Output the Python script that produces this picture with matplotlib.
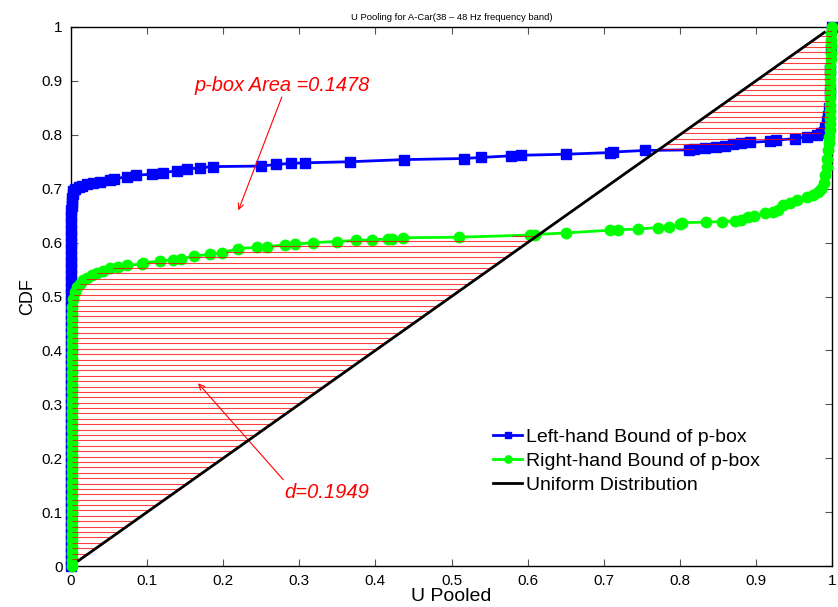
import numpy as np
import matplotlib
matplotlib.use('Agg')
import matplotlib.pyplot as plt

plt.rcParams['font.family'] = ['Liberation Sans', 'DejaVu Sans']

# Left-hand bound of the p-box (blue squares)
left_x = [0.000, 0.000, 0.000, 0.000, 0.000, 0.000, 0.000, 0.000, 0.000, 0.000,
          0.000, 0.000, 0.000, 0.000, 0.000, 0.000, 0.000, 0.000, 0.000, 0.000,
          0.000, 0.000, 0.000, 0.000, 0.000, 0.000, 0.000, 0.000, 0.000, 0.000,
          0.000, 0.000, 0.000, 0.000, 0.000, 0.000, 0.000, 0.000, 0.000, 0.000,
          0.000, 0.000, 0.000, 0.000, 0.000, 0.000, 0.000, 0.000, 0.000, 0.000,
          0.000, 0.000, 0.000, 0.000, 0.000, 0.000, 0.001, 0.001, 0.001, 0.002,
          0.003, 0.005, 0.010, 0.015, 0.021, 0.029, 0.038, 0.051, 0.056, 0.073,
          0.086, 0.106, 0.121, 0.139, 0.152, 0.170, 0.187, 0.250, 0.270, 0.289,
          0.307, 0.366, 0.438, 0.516, 0.539, 0.578, 0.591, 0.651, 0.708, 0.712,
          0.754, 0.812, 0.819, 0.833, 0.848, 0.859, 0.870, 0.881, 0.892, 0.919,
          0.927, 0.951, 0.967, 0.980, 0.986, 0.989, 0.991, 0.993, 0.994, 0.995,
          0.996, 0.997, 0.998, 0.999, 1.000]
left_y = [0.000, 0.012, 0.024, 0.036, 0.048, 0.060, 0.072, 0.084, 0.096, 0.108,
          0.120, 0.132, 0.144, 0.156, 0.168, 0.180, 0.192, 0.204, 0.216, 0.228,
          0.240, 0.252, 0.264, 0.276, 0.288, 0.300, 0.312, 0.324, 0.336, 0.348,
          0.360, 0.372, 0.384, 0.396, 0.408, 0.420, 0.432, 0.444, 0.456, 0.468,
          0.480, 0.492, 0.504, 0.516, 0.528, 0.540, 0.552, 0.564, 0.576, 0.588,
          0.600, 0.612, 0.624, 0.636, 0.648, 0.660, 0.668, 0.676, 0.683, 0.690,
          0.696, 0.700, 0.703, 0.705, 0.708, 0.711, 0.713, 0.717, 0.718, 0.722,
          0.725, 0.727, 0.730, 0.733, 0.736, 0.739, 0.741, 0.742, 0.745, 0.747,
          0.748, 0.750, 0.754, 0.756, 0.758, 0.761, 0.762, 0.764, 0.767, 0.768,
          0.771, 0.772, 0.773, 0.776, 0.778, 0.779, 0.783, 0.784, 0.786, 0.788,
          0.790, 0.793, 0.796, 0.800, 0.803, 0.806, 0.812, 0.818, 0.826, 0.834,
          0.850, 0.880, 0.920, 0.960, 1.000]

# Right-hand bound of the p-box (green circles)
right_x = [0.001, 0.001, 0.001, 0.001, 0.001, 0.001, 0.001, 0.001, 0.001, 0.001,
           0.001, 0.001, 0.001, 0.001, 0.001, 0.001, 0.001, 0.001, 0.001, 0.001,
           0.001, 0.001, 0.001, 0.001, 0.001, 0.001, 0.001, 0.001, 0.001, 0.001,
           0.001, 0.001, 0.001, 0.001, 0.001, 0.001, 0.001, 0.001, 0.001, 0.001,
           0.001, 0.002, 0.005, 0.008, 0.012, 0.016, 0.021, 0.028, 0.034, 0.042,
           0.051, 0.062, 0.073, 0.093, 0.095, 0.117, 0.134, 0.145, 0.161, 0.183,
           0.198, 0.220, 0.244, 0.257, 0.281, 0.294, 0.318, 0.349, 0.375, 0.395,
           0.417, 0.422, 0.436, 0.510, 0.603, 0.610, 0.651, 0.708, 0.719, 0.745,
           0.771, 0.786, 0.800, 0.803, 0.834, 0.856, 0.873, 0.881, 0.890, 0.897,
           0.912, 0.923, 0.929, 0.936, 0.945, 0.954, 0.967, 0.975, 0.982, 0.986,
           0.989, 0.991, 0.993, 0.994, 0.995, 0.996, 0.996, 0.997, 0.997, 0.997,
           0.997, 0.997, 0.998, 0.998, 0.998, 0.998, 0.998, 0.998, 0.999, 0.999,
           0.999, 0.999, 0.999, 1.000]
right_y = [0.000, 0.012, 0.024, 0.036, 0.048, 0.060, 0.072, 0.084, 0.096, 0.108,
           0.120, 0.132, 0.144, 0.156, 0.168, 0.180, 0.192, 0.204, 0.216, 0.228,
           0.240, 0.252, 0.264, 0.276, 0.288, 0.300, 0.312, 0.324, 0.336, 0.348,
           0.360, 0.372, 0.384, 0.396, 0.408, 0.420, 0.432, 0.444, 0.456, 0.468,
           0.480, 0.496, 0.509, 0.517, 0.524, 0.530, 0.534, 0.539, 0.543, 0.547,
           0.552, 0.555, 0.558, 0.560, 0.562, 0.566, 0.568, 0.570, 0.575, 0.578,
           0.581, 0.589, 0.591, 0.592, 0.596, 0.597, 0.600, 0.602, 0.604, 0.605,
           0.607, 0.607, 0.609, 0.610, 0.614, 0.615, 0.618, 0.623, 0.624, 0.625,
           0.628, 0.629, 0.634, 0.637, 0.638, 0.639, 0.640, 0.642, 0.647, 0.649,
           0.654, 0.657, 0.660, 0.670, 0.674, 0.679, 0.685, 0.689, 0.694, 0.700,
           0.710, 0.725, 0.741, 0.755, 0.772, 0.784, 0.796, 0.808, 0.820, 0.832,
           0.844, 0.856, 0.868, 0.880, 0.892, 0.904, 0.916, 0.928, 0.940, 0.952,
           0.964, 0.976, 0.988, 1.000]

# Uniform distribution reference
uniform_x = [0.01, 0.99]
uniform_y = [0.01, 0.99]

# hatch levels (every 0.01 in CDF)
hatch_levels = np.arange(0.013, 0.995, 0.01)

fig = plt.figure(figsize=(8.38, 6.07), dpi=100)
ax = fig.add_axes([71 / 838, 41 / 607, 761 / 838, 539 / 607])

ax.plot(left_x, left_y, '-s', color='#0000ff', lw=2, ms=6.5, mec='#0000ff',
        mfc='#0000ff', label='Left-hand Bound of p-box', zorder=3, clip_on=False)
ax.plot(right_x, right_y, '-o', color='#00ff00', lw=2, ms=7.5, mec='#00ff00',
        mfc='#00ff00', label='Right-hand Bound of p-box', zorder=4, clip_on=False)
ax.plot(uniform_x, uniform_y, '-', color='black', lw=2,
        label='Uniform Distribution', zorder=6)

# red horizontal hatching between the bounds and the uniform line
gx = np.interp(hatch_levels, right_y, right_x)
bx = np.interp(hatch_levels, left_y, left_x)
low = gx < hatch_levels
high = bx > hatch_levels
ax.hlines(hatch_levels[low], gx[low], hatch_levels[low], color='red',
          lw=0.8, alpha=0.75, zorder=5)
ax.hlines(hatch_levels[high], hatch_levels[high], bx[high], color='red',
          lw=0.8, alpha=0.75, zorder=5)

ax.set_xlim(0, 1)
ax.set_ylim(0, 1)
ax.set_xticks(np.arange(0, 1.01, 0.1))
ax.set_yticks(np.arange(0, 1.01, 0.1))
ax.set_xticklabels(['0', '0.1', '0.2', '0.3', '0.4', '0.5', '0.6', '0.7', '0.8', '0.9', '1'])
ax.set_yticklabels(['0', '0.1', '0.2', '0.3', '0.4', '0.5', '0.6', '0.7', '0.8', '0.9', '1'])
ax.tick_params(direction='in', top=True, right=True, length=5, width=0.8,
               labelsize=11, pad=6, color='#555555')
for s in ax.spines.values():
    s.set_linewidth(1.0)

ax.set_xlabel('U Pooled', fontsize=14, labelpad=0)
ax.set_ylabel('CDF', fontsize=13, labelpad=4)
ax.set_title('U Pooling for A-Car(38 \u2013 48 Hz frequency band)', fontsize=6.8, pad=5)

ax.text(0.277, 0.891, 'p-box Area =0.1478', color='red', fontsize=14.4,
        style='italic', ha='center', va='center')
ax.annotate('', xy=(0.220, 0.660), xytext=(0.277, 0.870),
            arrowprops=dict(arrowstyle='->', color='red', lw=0.8,
                            shrinkA=0, shrinkB=0))
ax.text(0.336, 0.136, 'd=0.1949', color='red', fontsize=14.5,
        style='italic', ha='center', va='center')
ax.annotate('', xy=(0.167, 0.339), xytext=(0.279, 0.160),
            arrowprops=dict(arrowstyle='->', color='red', lw=0.8,
                            shrinkA=0, shrinkB=0))

ax.legend(loc='center left', bbox_to_anchor=(0.5545, 0.195), frameon=False,
          fontsize=14, borderpad=0, borderaxespad=0, handlelength=1.5,
          handletextpad=0.2, labelspacing=0.33, markerscale=0.7)

fig.savefig('out.png', dpi=100)
